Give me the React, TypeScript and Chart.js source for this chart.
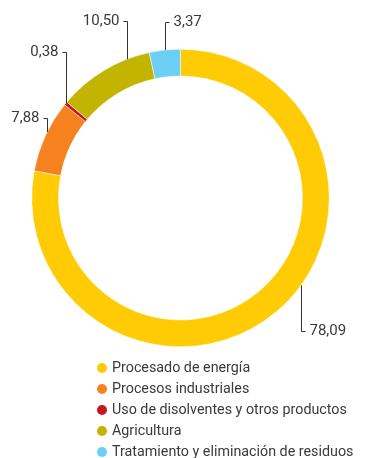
import React, { useEffect, useRef } from "react";
import { Chart, registerables } from "chart.js";

Chart.register(...registerables);

const categories = [
  "Procesado de energía",
  "Procesos industriales",
  "Uso de disolventes y otros productos",
  "Agricultura",
  "Tratamiento y eliminación de residuos",
];
const values = [78.09, 7.88, 0.38, 10.5, 3.37];
const valueLabels = ["78,09", "7,88", "0,38", "10,50", "3,37"];
const colors = ["#FFCB05", "#F5821F", "#C8161D", "#C2B400", "#6DCFF6"];

// callout styling: position along arc, leader length, side of text
const callouts = [
  { frac: 0.449, dy: 46, side: 1 },
  { frac: 0.56, dy: -14, side: -1 },
  { frac: 0.5, dy: -51, side: -1 },
  { frac: 0.76, dy: -38, side: -1 },
  { frac: 0.5, dy: -28, side: 1 },
];

const TEXT_COLOR = "#3a3a3a";
const FONT = "Roboto, 'DejaVu Sans', sans-serif";

const calloutPlugin = {
  id: "callouts",
  afterDatasetsDraw(chart: any) {
    const ctx = chart.ctx as CanvasRenderingContext2D;
    const meta = chart.getDatasetMeta(0);
    ctx.save();
    ctx.strokeStyle = "#333";
    ctx.lineWidth = 1;
    ctx.fillStyle = TEXT_COLOR;
    ctx.font = `15px ${FONT}`;
    ctx.textBaseline = "middle";
    meta.data.forEach((arc: any, i: number) => {
      const c = callouts[i];
      const { x, y, startAngle, endAngle, outerRadius } = arc.getProps(
        ["x", "y", "startAngle", "endAngle", "outerRadius"],
        true
      );
      const a = startAngle + c.frac * (endAngle - startAngle);
      const px = Math.round(x + outerRadius * Math.cos(a)) + 0.5;
      const py = y + outerRadius * Math.sin(a);
      const ly = Math.round(py + c.dy) + 0.5;
      ctx.beginPath();
      ctx.moveTo(px, py);
      ctx.lineTo(px, ly);
      ctx.lineTo(px + c.side * 4, ly);
      ctx.stroke();
      ctx.textAlign = c.side > 0 ? "left" : "right";
      ctx.fillText(valueLabels[i], px + c.side * 8, ly);
    });
    ctx.restore();
  },
};

export default function App() {
  const canvasRef = useRef<HTMLCanvasElement | null>(null);

  useEffect(() => {
    document.body.style.margin = "0";
    const canvas = canvasRef.current;
    if (!canvas) return;
    const chart = new Chart(canvas, {
      type: "doughnut",
      data: {
        labels: categories,
        datasets: [
          {
            data: values,
            backgroundColor: colors,
            borderColor: "#ffffff",
            borderWidth: 0.5,
            hoverOffset: 0,
            offset: 0,
          },
        ],
      },
      options: {
        responsive: false,
        animation: false,
        devicePixelRatio: 1,
        cutout: "82%",
        rotation: 0,
        layout: { padding: { left: 31.5, right: 52.5, top: 49, bottom: 111 } },
        plugins: {
          legend: { display: false },
          tooltip: { enabled: false },
        },
        events: [],
      },
      plugins: [calloutPlugin],
    });
    return () => chart.destroy();
  }, []);

  return (
    <div style={{ position: "fixed", left: 0, top: 0, width: 382, height: 458, background: "#fff" }}>
      <canvas ref={canvasRef} width={382} height={458} style={{ position: "absolute", left: 0, top: 0 }} />
      <div
        style={{
          position: "absolute",
          left: 97,
          top: 357,
          fontFamily: FONT,
          fontSize: 14.3,
          lineHeight: "21px",
          color: TEXT_COLOR,
          whiteSpace: "nowrap",
        }}
      >
        {categories.map((c, i) => (
          <div key={c} style={{ display: "flex", alignItems: "center", height: 21 }}>
            <span
              style={{
                display: "inline-block",
                width: 10,
                height: 10,
                borderRadius: "50%",
                background: colors[i],
                marginRight: 5,
              }}
            />
            <span>{c}</span>
          </div>
        ))}
      </div>
    </div>
  );
}
